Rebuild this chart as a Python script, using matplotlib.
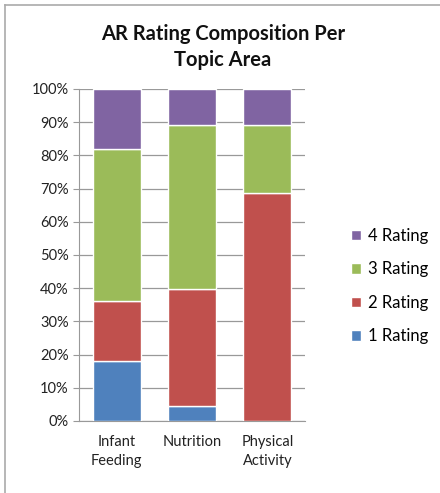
import matplotlib.pyplot as plt
from matplotlib.lines import Line2D
from matplotlib.ticker import PercentFormatter

# data
categories = ["Infant\nFeeding", "Nutrition", "Physical\nActivity"]
series_names = ["1 Rating", "2 Rating", "3 Rating", "4 Rating"]
rating_1 = [18.1, 4.6, 0.0]
rating_2 = [18.1, 35.1, 68.8]
rating_3 = [45.7, 49.4, 20.3]
rating_4 = [18.1, 10.9, 10.9]
colors = ["#4F81BD", "#C0504D", "#9BBB59", "#8064A2"]

plt.rcParams['font.family'] = ['Lato', 'DejaVu Sans']

fig = plt.figure(figsize=(4.4, 4.93), dpi=100)
ax = fig.add_axes([79 / 440, 1 - 421 / 493, 226 / 440, 332 / 493])

x = range(len(categories))
bottom = [0.0] * len(categories)
handles = []
for name, vals, col in zip(series_names, [rating_1, rating_2, rating_3, rating_4], colors):
    b = ax.bar(x, vals, bottom=bottom, width=0.64, color=col, edgecolor="white",
               linewidth=1.0, label=name, zorder=3)
    handles.append(b)
    bottom = [p + v for p, v in zip(bottom, vals)]

ax.set_xlim(-0.5, 2.5)
ax.set_ylim(0, 100)
ax.set_yticks(range(0, 101, 10))
ax.yaxis.set_major_formatter(PercentFormatter(decimals=0))
ax.set_xticks(list(x))
ax.set_xticklabels(categories, fontsize=10.5, color="#222222", linespacing=1.45)
ax.tick_params(axis="y", labelsize=10.5, colors="#222222", length=4, color="#999999")
ax.tick_params(axis="x", length=0, pad=10)
ax.grid(axis="y", color="#999999", linewidth=0.9, zorder=0)
for s in ["top", "right"]:
    ax.spines[s].set_visible(False)
for s in ["left", "bottom"]:
    ax.spines[s].set_color("#999999")

fig.text(223 / 440, 1 - 47 / 493, "AR Rating Composition Per\nTopic Area", ha="center",
         va="center", fontsize=14.5, fontweight="bold", linespacing=1.4, color="#111111")

leg = fig.legend(handles[::-1], series_names[::-1], loc="center left",
                 bbox_to_anchor=(336 / 440, 1 - 286 / 493), frameon=False,
                 fontsize=12, handlelength=0.6, handleheight=0.6, handletextpad=0.4,
                 labelspacing=1.05)

# chart border (top and left visible)
fig.add_artist(Line2D([5 / 440, 1], [1 - 5 / 493, 1 - 5 / 493], color="#AAAAAA", linewidth=1.2))
fig.add_artist(Line2D([5 / 440, 5 / 440], [0, 1 - 5 / 493], color="#AAAAAA", linewidth=1.2))

fig.savefig("out.png", dpi=100)
